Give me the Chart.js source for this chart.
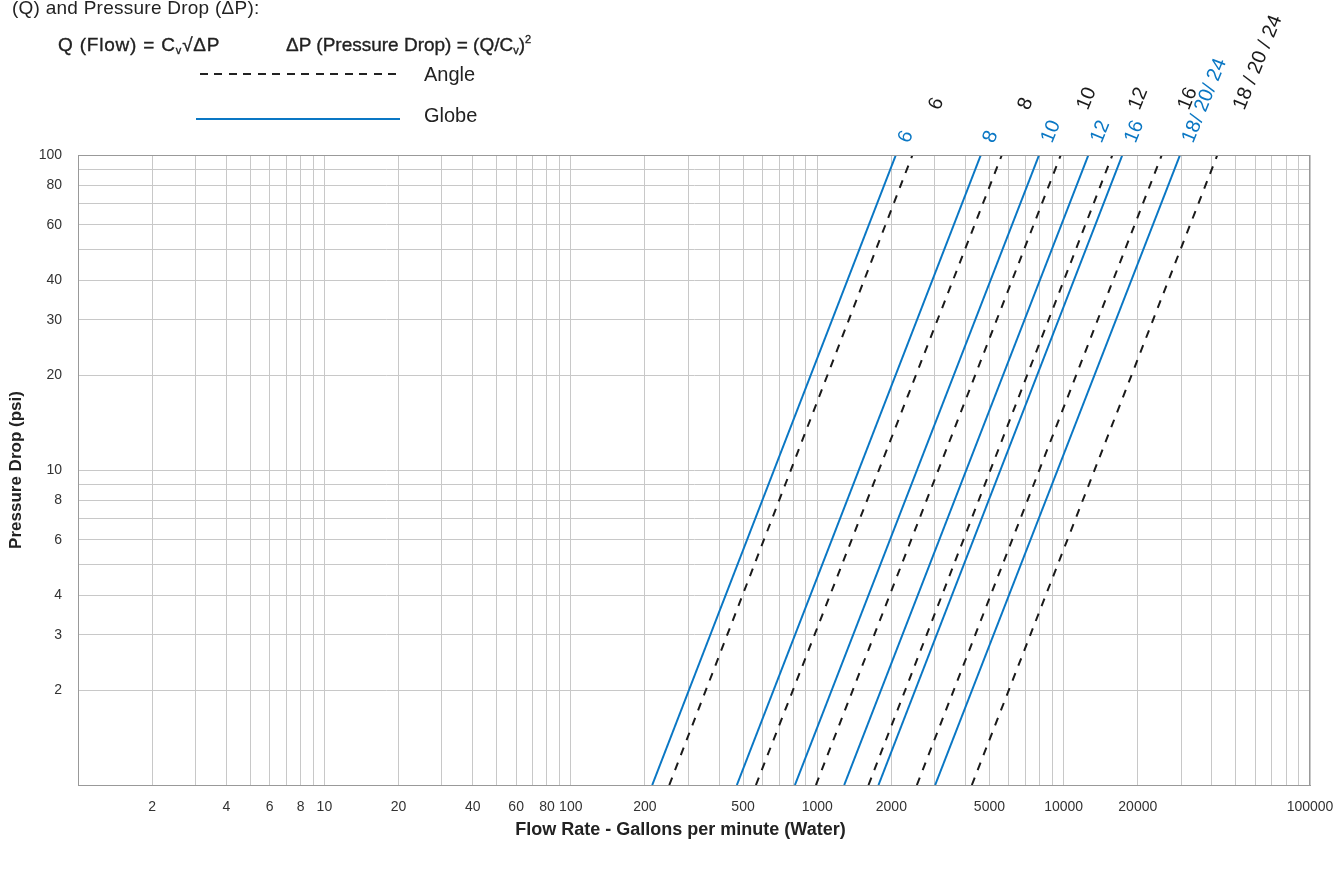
<!DOCTYPE html>
<html>
<head>
<meta charset="utf-8">
<script src="https://cdn.jsdelivr.net/npm/chart.js@4.4.1/dist/chart.umd.min.js"></script>
<style>
  body { margin: 0; background: #fff; }
  #wrap { position: relative; width: 1341px; height: 869px; font-family: "Liberation Sans", Arial, sans-serif; color: #222; }
  .note { position: absolute; white-space: nowrap; line-height: 20px; }
  .formula { font-size: 19px; -webkit-text-stroke: 0.35px #222; }
  .formula sub, .formula sup { font-size: 11px; line-height: 0; position: relative; vertical-align: baseline; }
  .formula sub { top: 3px; }
  .formula sup { top: -8px; }
  .key { font-size: 20px; }
  .sample { position: absolute; height: 2px; }
</style>
</head>
<body>
<div id="wrap">
  <canvas id="flowChart" width="1341" height="869"></canvas>
  <div class="note" style="left:12px; top:-2px; font-size:19px; letter-spacing:0.25px;">(Q) and Pressure Drop (ΔP):</div>
  <div class="note formula" style="left:58px; top:35px; letter-spacing:0.8px;">Q (Flow) = C<sub>v</sub>√ΔP</div>
  <div class="note formula" style="left:286px; top:35px;">ΔP (Pressure Drop) = (Q/C<sub>v</sub>)<sup>2</sup></div>
  <div class="sample" style="left:200px; top:73px; width:200px; background: repeating-linear-gradient(to right, #222 0 8px, transparent 8px 14.5px);"></div>
  <div class="note key" style="left:424px; top:64px;">Angle</div>
  <div class="sample" style="left:196px; top:118px; width:204px; background:#0a77c4;"></div>
  <div class="note key" style="left:424px; top:105px;">Globe</div>
</div>
<script>
// pressure drop (psi) at the two ends of every sizing line
const pressureEnds = [1, 100];

// globe valves, flow (gpm) read at 1 psi and at 100 psi
const globeSizes = ['6', '8', '10', '12', '16', '18/ 20/ 24'];
const globeFlowLow = [214, 472, 812, 1287, 1773, 3011];
const globeFlowHigh = [2086, 4615, 7955, 12611, 17320, 29690];

// angle valves
const angleSizes = ['6', '8', '10', '12', '16', '18 / 20 / 24'];
const angleFlowLow = [251, 564, 988, 1615, 2538, 4242];
const angleFlowHigh = [2435, 5616, 9740, 15776, 25030, 42060];

// tick labels
const xTickLabels = [2, 4, 6, 8, 10, 20, 40, 60, 80, 100, 200, 500, 1000, 2000, 5000, 10000, 20000, 100000];
const yTickLabels = [2, 3, 4, 6, 8, 10, 20, 30, 40, 60, 80, 100];

const BLUE = '#0a77c4';
const BLACK = '#1a1a1a';
const tickFont = {family: '"Liberation Sans Narrow", "Liberation Sans", Arial, sans-serif', size: 14};
const titleFont = {family: '"Liberation Sans Narrow", "Liberation Sans", Arial, sans-serif', size: 18, weight: 'bold'};

// every 1..9 step of each decade, for the grid
function decadeSteps(lo, hi) {
  const out = [];
  for (let d = lo; d < hi; d *= 10) {
    for (let k = 1; k < 10; k++) out.push(k * d);
  }
  out.push(hi);
  return out;
}

const datasets = [];
globeSizes.forEach((size, i) => {
  datasets.push({
    label: 'Globe ' + size,
    sizeLabel: size,
    group: 'globe',
    data: [{x: globeFlowLow[i], y: pressureEnds[0]}, {x: globeFlowHigh[i], y: pressureEnds[1]}],
    borderColor: BLUE,
    borderWidth: 2,
    showLine: true,
    pointRadius: 0,
  });
});
angleSizes.forEach((size, i) => {
  datasets.push({
    label: 'Angle ' + size,
    sizeLabel: size,
    group: 'angle',
    data: [{x: angleFlowLow[i], y: pressureEnds[0]}, {x: angleFlowHigh[i], y: pressureEnds[1]}],
    borderColor: BLACK,
    borderWidth: 2,
    borderDash: [8, 8],
    showLine: true,
    pointRadius: 0,
  });
});

// size names written up the line ends, plus the frame
const sizeLabels = {
  id: 'sizeLabels',
  afterDatasetsDraw(chart) {
    const ctx = chart.ctx;
    const area = chart.chartArea;
    ctx.save();
    ctx.strokeStyle = '#999';
    ctx.lineWidth = 1;
    ctx.strokeRect(area.left + 0.5, area.top + 0.5, area.right - area.left - 1, area.bottom - area.top);
    ctx.font = '20px "Liberation Sans", Arial, sans-serif';
    ctx.textAlign = 'left';
    ctx.textBaseline = 'alphabetic';
    chart.data.datasets.forEach((ds, i) => {
      const top = chart.getDatasetMeta(i).data[1];
      const globe = ds.group === 'globe';
      ctx.save();
      ctx.translate(top.x + (globe ? 13 : 27), area.top - (globe ? 11 : 44));
      ctx.rotate(-68 * Math.PI / 180);
      ctx.fillStyle = globe ? BLUE : BLACK;
      ctx.fillText(ds.sizeLabel, 0, 0);
      ctx.restore();
    });
    ctx.restore();
  }
};

new Chart(document.getElementById('flowChart'), {
  type: 'scatter',
  data: {datasets},
  options: {
    responsive: false,
    animation: false,
    layout: {padding: {top: 155, right: 31, left: 0, bottom: 0}},
    plugins: {legend: {display: false}, tooltip: {enabled: false}},
    scales: {
      x: {
        type: 'logarithmic',
        min: 1,
        max: 100000,
        afterBuildTicks: s => { s.ticks = decadeSteps(1, 100000).map(v => ({value: v})); },
        afterFit: s => { s.height = 84; s.paddingLeft = 0; s.paddingRight = 0; },
        ticks: {
          autoSkip: false, maxRotation: 0, minRotation: 0, padding: 14,
          color: '#333', font: tickFont,
          callback: v => xTickLabels.includes(v) ? String(v) : '',
        },
        grid: {color: '#c8c8c8', drawTicks: false},
        border: {color: '#999'},
        // trailing en spaces nudge the centred title a little left, as in the original
        title: {display: true, text: 'Flow Rate - Gallons per minute (Water)\u2002\u2002\u2002', color: '#222', font: titleFont, padding: {top: 0, bottom: 28}},
      },
      y: {
        type: 'logarithmic',
        min: 1,
        max: 100,
        afterBuildTicks: s => { s.ticks = decadeSteps(1, 100).map(v => ({value: v})); },
        afterFit: s => { s.width = 78; s.paddingTop = 0; s.paddingBottom = 0; },
        ticks: {
          autoSkip: false, padding: 16,
          color: '#333', font: tickFont,
          callback: v => yTickLabels.includes(v) ? String(v) : '',
        },
        grid: {color: '#c8c8c8', drawTicks: false},
        border: {color: '#999'},
        title: {display: true, text: 'Pressure Drop (psi)', color: '#222', font: {...titleFont, size: 17}, padding: {top: 6, bottom: 0}},
      },
    },
  },
  plugins: [sizeLabels],
});
</script>
</body>
</html>
